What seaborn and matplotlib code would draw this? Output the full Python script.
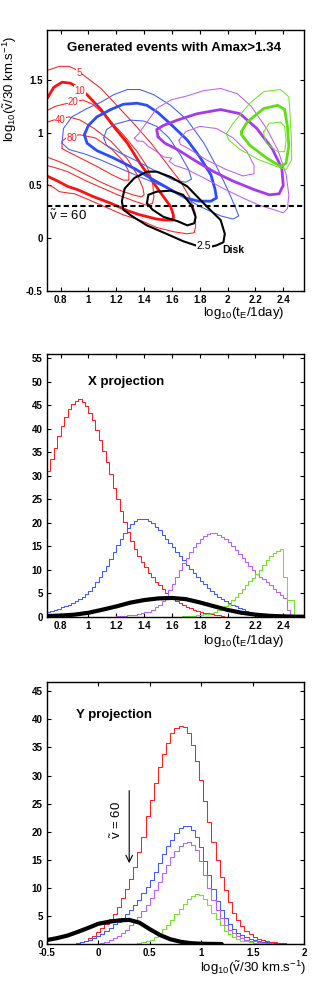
import numpy as np
import matplotlib
matplotlib.use("Agg")
import matplotlib.pyplot as plt
import seaborn as sns

# ---------------- contour lines of the top panel (log10 tE, log10 v/30) ----------------
red5 = [(0.70, 1.59), (0.79, 1.63), (0.86, 1.63), (0.91, 1.60), (0.98, 1.53), (1.09, 1.42), (1.21, 1.25),
        (1.33, 1.08), (1.45, 0.90), (1.56, 0.71), (1.66, 0.54), (1.73, 0.38), (1.77, 0.23), (1.77, 0.11),
        (1.76, 0.05), (1.71, 0.04), (1.61, 0.06), (1.49, 0.10), (1.37, 0.17), (1.25, 0.22), (1.13, 0.29),
        (0.99, 0.37), (0.90, 0.42), (0.84, 0.43), (0.79, 0.44), (0.75, 0.48), (0.70, 0.51)]
red10 = [(0.70, 1.32), (0.75, 1.43), (0.81, 1.48), (0.87, 1.47), (0.91, 1.44), (0.99, 1.36), (1.09, 1.22),
         (1.18, 1.06), (1.28, 0.90), (1.37, 0.71), (1.47, 0.52), (1.54, 0.39), (1.59, 0.30), (1.61, 0.22),
         (1.61, 0.17), (1.56, 0.17), (1.49, 0.18), (1.37, 0.22), (1.28, 0.26), (1.16, 0.33), (1.04, 0.39),
         (0.92, 0.46), (0.85, 0.49), (0.78, 0.54), (0.70, 0.59)]
red20 = [(0.70, 1.21), (0.76, 1.25), (0.82, 1.27), (0.89, 1.29), (0.96, 1.31), (1.03, 1.27), (1.13, 1.15),
         (1.25, 0.98), (1.35, 0.82), (1.42, 0.68), (1.46, 0.54), (1.47, 0.39), (1.46, 0.33), (1.42, 0.31),
         (1.33, 0.35), (1.21, 0.41), (1.09, 0.48), (0.97, 0.55), (0.85, 0.63), (0.78, 0.66), (0.70, 0.69)]
red40 = [(0.70, 1.10), (0.75, 1.12), (0.86, 1.15), (0.94, 1.12), (1.04, 1.04), (1.16, 0.92), (1.28, 0.75),
         (1.35, 0.60), (1.39, 0.48), (1.40, 0.41), (1.38, 0.39), (1.32, 0.41), (1.21, 0.46), (1.09, 0.53),
         (0.97, 0.61), (0.85, 0.69), (0.78, 0.73), (0.70, 0.77)]
red80 = [(0.81, 0.85), (0.81, 0.92), (0.86, 0.97), (0.94, 0.98), (1.05, 0.95), (1.17, 0.84), (1.25, 0.73),
         (1.29, 0.63), (1.29, 0.55), (1.25, 0.55), (1.17, 0.60), (1.06, 0.68), (0.94, 0.76), (0.85, 0.82),
         (0.81, 0.85)]
red_labels = ["5", "10", "20", "40", "80"]
red_label_pos = [(0.93, 1.57), (0.94, 1.40), (0.89, 1.29), (0.80, 1.12), (0.88, 0.95)]

blue_out = [(0.81, 0.90), (0.82, 1.04), (0.88, 1.15), (0.99, 1.23), (1.09, 1.29), (1.18, 1.36), (1.28, 1.41),
            (1.37, 1.41), (1.47, 1.36), (1.59, 1.26), (1.71, 1.12), (1.83, 0.90), (1.92, 0.68), (1.99, 0.49),
            (2.05, 0.31), (2.08, 0.21), (2.04, 0.18), (1.95, 0.21), (1.80, 0.30), (1.66, 0.41), (1.52, 0.50),
            (1.37, 0.58), (1.23, 0.66), (1.09, 0.74), (0.97, 0.80), (0.86, 0.84), (0.81, 0.90)]
blue_mid = [(0.97, 0.98), (1.00, 1.07), (1.06, 1.15), (1.16, 1.22), (1.25, 1.27), (1.35, 1.28), (1.42, 1.26),
            (1.50, 1.19), (1.60, 1.07), (1.71, 0.93), (1.80, 0.77), (1.88, 0.60), (1.91, 0.46), (1.92, 0.38),
            (1.88, 0.35), (1.79, 0.35), (1.70, 0.38), (1.59, 0.46), (1.47, 0.55), (1.33, 0.66), (1.18, 0.76),
            (1.06, 0.83), (0.99, 0.90), (0.97, 0.98)]
blue_in = [(1.11, 0.95), (1.13, 1.03), (1.19, 1.08), (1.30, 1.12), (1.40, 1.11), (1.49, 1.06), (1.58, 0.95),
           (1.66, 0.79), (1.72, 0.65), (1.74, 0.56), (1.70, 0.53), (1.61, 0.55), (1.49, 0.63), (1.35, 0.73),
           (1.21, 0.82), (1.13, 0.88), (1.11, 0.95)]

purple_out = [(1.33, 0.95), (1.36, 0.99), (1.42, 1.10), (1.49, 1.23), (1.59, 1.31), (1.71, 1.35), (1.83, 1.40),
              (1.95, 1.42), (2.07, 1.37), (2.17, 1.25), (2.28, 1.04), (2.36, 0.84), (2.42, 0.61), (2.44, 0.41),
              (2.43, 0.28), (2.40, 0.24), (2.33, 0.27), (2.23, 0.31), (2.11, 0.38), (1.97, 0.47), (1.83, 0.57),
              (1.71, 0.65), (1.62, 0.69), (1.58, 0.73), (1.60, 0.76), (1.54, 0.77), (1.49, 0.82), (1.43, 0.87),
              (1.39, 0.92), (1.35, 0.92), (1.33, 0.95)]
purple_mid = [(1.50, 0.96), (1.49, 1.03), (1.54, 1.07), (1.64, 1.12), (1.78, 1.18), (1.95, 1.22), (2.09, 1.18),
              (2.21, 1.04), (2.32, 0.85), (2.39, 0.66), (2.40, 0.50), (2.37, 0.42), (2.30, 0.41), (2.19, 0.46),
              (2.04, 0.54), (1.90, 0.63), (1.76, 0.74), (1.64, 0.84), (1.55, 0.90), (1.50, 0.96)]
purple_in = [(1.65, 0.93), (1.70, 1.01), (1.80, 1.06), (1.92, 1.04), (2.04, 0.95), (2.14, 0.82), (2.19, 0.69),
             (2.19, 0.61), (2.11, 0.59), (1.99, 0.65), (1.85, 0.74), (1.73, 0.84), (1.66, 0.89), (1.65, 0.93)]

green_out = [(1.99, 0.99), (2.04, 1.09), (2.16, 1.28), (2.26, 1.39), (2.38, 1.41), (2.44, 1.34), (2.45, 1.15),
             (2.46, 0.90), (2.46, 0.74), (2.42, 0.65), (2.35, 0.68), (2.23, 0.74), (2.09, 0.84), (2.01, 0.93),
             (1.99, 0.99)]
green_mid = [(2.10, 1.01), (2.14, 1.10), (2.26, 1.23), (2.36, 1.26), (2.41, 1.22), (2.43, 1.06), (2.44, 0.87),
             (2.42, 0.71), (2.38, 0.68), (2.28, 0.76), (2.16, 0.88), (2.10, 0.98), (2.10, 1.01)]
green_in = [(2.26, 1.01), (2.30, 1.09), (2.38, 1.10), (2.41, 1.06), (2.42, 0.93), (2.41, 0.82), (2.36, 0.82),
            (2.28, 0.90), (2.26, 0.98), (2.26, 1.01)]

black_out = [(1.24, 0.35), (1.26, 0.47), (1.33, 0.57), (1.42, 0.63), (1.49, 0.63), (1.59, 0.58), (1.71, 0.49),
             (1.85, 0.30), (1.95, 0.17), (1.98, 0.04), (1.97, -0.04), (1.92, -0.07), (1.89, -0.08),
             (1.77, -0.07), (1.68, -0.03), (1.56, 0.04), (1.42, 0.12), (1.31, 0.21), (1.25, 0.27), (1.24, 0.35)]
black_in = [(1.42, 0.33), (1.43, 0.41), (1.49, 0.44), (1.59, 0.45), (1.68, 0.41), (1.74, 0.31), (1.77, 0.20),
            (1.76, 0.14), (1.71, 0.12), (1.64, 0.16), (1.54, 0.20), (1.46, 0.27), (1.42, 0.33)]
v60_level = 0.301

# ---------------- X projection histograms (bin 0.025) ----------------
xbin = 0.025
red_x_start = 0.70
red_x = [31.0, 33.5, 36.0, 38.5, 40.5, 42.5, 44.2, 45.3, 46.0, 46.3, 45.8, 44.8, 43.3, 41.8, 39.8,
         37.6, 35.2, 33.0, 30.3, 27.5, 25.0, 22.5, 20.2, 18.0, 16.2, 14.5, 13.0, 11.6, 10.5, 9.4,
         8.4, 7.5, 6.7, 5.9, 5.1, 4.4, 3.8, 3.3, 2.9, 2.5, 2.1, 1.8, 1.5, 1.3, 1.1, 0.9, 0.7, 0.55,
         0.4, 0.3, 0.15, 0.05, 0.0]
blue_x_start = 0.70
blue_x = [1.0, 1.2, 1.4, 1.7, 2.0, 2.3, 2.6, 3.0, 3.4, 3.8, 4.3, 4.9, 5.5, 6.4, 7.4, 8.4, 9.7, 10.9,
          12.3, 13.8, 15.3, 16.6, 17.8, 18.9, 19.7, 20.3, 20.7, 20.9, 20.8, 20.4, 19.9, 19.2, 18.4,
          17.5, 16.6, 15.7, 14.8, 13.8, 12.9, 12.0, 11.1, 10.2, 9.3, 8.5, 7.7, 6.9, 6.1, 5.5, 4.9,
          4.3, 3.8, 3.3, 2.9, 2.5, 2.2, 1.9, 1.6, 1.3, 1.1, 0.9, 0.7, 0.55, 0.4, 0.3, 0.2, 0.1,
          0.05, 0.02, 0.0]
purple_x_start = 1.175
purple_x = [0.05, 0.1, 0.15, 0.2, 0.3, 0.35, 0.45, 0.6, 0.75, 0.95, 1.1, 1.5, 2.0, 2.6, 3.4, 4.3,
            5.6, 7.0, 8.5, 10.0, 11.5, 12.6, 13.8, 14.9, 15.8, 16.6, 17.2, 17.6, 17.8, 17.8, 17.4,
            16.9, 16.5, 15.9, 15.1, 14.3, 13.4, 12.5, 11.7, 10.8, 10.0, 9.1, 8.5, 8.0, 7.4, 6.7,
            5.9, 5.2, 4.6, 3.9, 1.4, 0.0, 0.0]
green_x_start = 1.60
green_x = [0.02, 0.03, 0.05, 0.08, 0.1, 0.15, 0.2, 0.3, 0.4, 0.5, 0.65, 0.85, 1.1, 1.4, 1.75, 2.2,
           2.8, 3.5, 4.2, 5.0, 5.9, 6.8, 7.6, 8.3, 9.1, 10.0, 11.0, 12.0, 12.9, 13.6, 14.1, 14.5,
           8.5, 3.5, 3.5, 0.0]
black_x_pos = [0.7, 0.8, 0.9, 1.0, 1.1, 1.2, 1.3, 1.4, 1.5, 1.6, 1.7, 1.8, 1.9, 2.0, 2.1, 2.2, 2.3,
               2.4, 2.5, 2.6]
black_x = [0.15, 0.25, 0.45, 0.85, 1.5, 2.2, 3.0, 3.55, 3.9, 4.0, 3.75, 3.05, 2.25, 1.45, 0.85, 0.45,
           0.2, 0.08, 0.02, 0.0]

# ---------------- Y projection histograms (bin 0.04) ----------------
ybin = 0.04
red_y_start = -0.22
red_y = [0.05, 0.3, 0.6, 1.0, 1.5, 2.1, 2.9, 3.6, 4.4, 5.4, 6.6, 8.2, 9.8, 11.6, 13.7, 16.3, 19.1,
         22.8, 25.7, 28.7, 31.6, 33.8, 35.8, 37.5, 38.5, 38.9, 38.6, 37.5, 35.4, 32.6, 29.2, 25.5,
         21.8, 18.2, 15.0, 12.0, 9.6, 7.4, 5.6, 4.2, 3.2, 2.3, 1.7, 1.25, 0.9, 0.65, 0.5, 0.35, 0.27,
         0.2, 0.13, 0.08, 0.05, 0.03, 0.02, 0.01]
blue_y_start = -0.22
blue_y = [0.1, 0.35, 0.55, 0.8, 1.05, 1.4, 1.8, 2.3, 2.9, 3.5, 4.0, 4.6, 5.3, 6.0, 7.0, 7.9, 9.0, 10.1,
          11.4, 12.9, 14.4, 16.0, 17.4, 18.6, 19.7, 20.6, 21.0, 21.0, 20.3, 19.0, 17.2, 14.8, 12.2,
          9.8, 7.7, 6.0, 4.6, 3.5, 2.7, 2.0, 1.6, 1.2, 0.95, 0.75, 0.55, 0.42, 0.32, 0.22, 0.15, 0.1,
          0.06, 0.03, 0.0]
purple_y_start = -0.02
purple_y = [0.05, 0.15, 0.35, 0.7, 1.1, 1.5, 2.0, 2.5, 3.3, 4.0, 4.8, 5.8, 7.0, 8.2, 9.6, 11.1, 12.6,
            14.1, 15.5, 16.6, 17.5, 18.0, 18.1, 17.7, 16.7, 14.8, 12.3, 10.0, 7.8, 6.0, 4.6, 3.4, 2.5,
            1.9, 1.4, 1.0, 0.8, 0.6, 0.45, 0.35, 0.25, 0.18, 0.12, 0.08, 0.05, 0.03, 0.0]
green_y_start = 0.30
green_y = [0.03, 0.08, 0.15, 0.3, 0.5, 0.8, 1.2, 1.8, 2.6, 3.4, 4.3, 5.3, 6.3, 7.2, 8.0, 8.6, 8.9, 8.8,
           8.1, 7.0, 5.6, 4.4, 3.3, 2.4, 1.7, 1.2, 0.85, 0.6, 0.45, 0.32, 0.22, 0.15, 0.1, 0.06, 0.03,
           0.0]
black_y_pos = [-0.5, -0.4, -0.3, -0.2, -0.1, 0.0, 0.1, 0.2, 0.3, 0.4, 0.5, 0.6, 0.7, 0.8, 0.9, 1.0,
               1.1, 1.2]
black_y = [0.7, 1.05, 1.5, 2.15, 2.85, 3.6, 3.95, 4.2, 4.3, 3.8, 2.65, 1.6, 0.85, 0.4, 0.15, 0.05,
           0.02, 0.0]

RED, BLUE, PURPLE, GREEN = "#ff2020", "#3d5cff", "#c060f5", "#6ee624"
RED_T, BLUE_T, PURPLE_T, GREEN_T = "#ff1010", "#2a4dff", "#a838f0", "#5ee010"

sns.set_theme(style="ticks")
plt.rcParams.update({
    "font.family": ["Liberation Sans", "DejaVu Sans"],
    "mathtext.fontset": "custom",
    "mathtext.rm": "Liberation Sans",
    "mathtext.it": "Liberation Sans:italic",
    "mathtext.bf": "Liberation Sans:bold",
    "mathtext.default": "regular",
    "axes.unicode_minus": False,
    "axes.linewidth": 1.0,
    "axes.edgecolor": "black",
    "text.color": "black",
    "axes.labelcolor": "black",
    "xtick.color": "black", "ytick.color": "black",
    "xtick.direction": "in", "ytick.direction": "in",
    "xtick.top": True, "ytick.right": True,
    "xtick.major.size": 3, "ytick.major.size": 3,
    "xtick.major.width": 0.8, "ytick.major.width": 0.8,
    "xtick.major.pad": 3, "ytick.major.pad": 3,
})

fig = plt.figure(figsize=(3.27, 9.81), dpi=100)
ax1 = fig.add_axes([0.143, 0.7037, 0.787, 0.2657])
ax2 = fig.add_axes([0.143, 0.3713, 0.787, 0.2675])
ax3 = fig.add_axes([0.143, 0.0377, 0.787, 0.2668])


def contour(ax, pts, color, lw):
    xs = [p[0] for p in pts]
    ys = [p[1] for p in pts]
    sns.lineplot(x=xs, y=ys, sort=False, estimator=None, color=color, linewidth=lw, ax=ax)


def hist(ax, vals, start, width, color):
    n = len(vals)
    centers = start + width * (np.arange(n) + 0.5)
    sns.histplot(x=centers, weights=np.asarray(vals, dtype=float), bins=n,
                 binrange=(start, start + n * width), element="step", fill=False,
                 color=color, linewidth=0.75, ax=ax)


def fmt(v):
    return "%g" % v


def style(ax, xt, yt, xlim, ylim):
    ax.set_xlim(*xlim)
    ax.set_ylim(*ylim)
    ax.set_xticks(xt, labels=[fmt(v) for v in xt], fontweight="bold", fontsize=7)
    ax.set_yticks(yt, labels=[fmt(v) for v in yt], fontweight="bold", fontsize=7)
    ax.set_ylabel("")
    for s in ax.spines.values():
        s.set_visible(True)


# ---- panel 1: contours
for pts, lw in [(red5, 0.75), (red20, 0.75), (red40, 0.75), (red80, 0.75)]:
    contour(ax1, pts, RED, lw)
contour(ax1, red10, RED_T, 2.0)
contour(ax1, blue_out, BLUE, 0.75)
contour(ax1, blue_in, BLUE, 0.75)
contour(ax1, blue_mid, BLUE_T, 2.0)
contour(ax1, purple_out, PURPLE, 0.75)
contour(ax1, purple_in, PURPLE, 0.75)
contour(ax1, purple_mid, PURPLE_T, 2.0)
contour(ax1, green_out, GREEN, 0.75)
contour(ax1, green_in, GREEN, 0.75)
contour(ax1, green_mid, GREEN_T, 2.0)
contour(ax1, black_out, "black", 1.5)
contour(ax1, black_in, "black", 1.5)
for lab, (lx, ly) in zip(red_labels, red_label_pos):
    ax1.text(lx, ly, lab, color=RED, fontsize=7, ha="center", va="center",
             bbox=dict(facecolor="white", edgecolor="none", pad=0.2))
ax1.text(1.83, -0.075, "2.5", fontsize=7.5, ha="center", va="center",
         bbox=dict(facecolor="white", edgecolor="none", pad=0.2))
ax1.axhline(v60_level, color="black", lw=1.5, ls=(0, (2.5, 1.5)))
ax1.text(0.716, 0.21, r"$\tilde{v}$ = 60", fontsize=9.5, ha="left", va="center")
ax1.text(1.965, -0.114, "Disk", fontsize=7.5, fontweight="bold", ha="left", va="center")
ax1.text(1.617, 1.807, "Generated events with Amax>1.34", fontsize=9.5, fontweight="bold",
         ha="center", va="center")
style(ax1, [0.8, 1.0, 1.2, 1.4, 1.6, 1.8, 2.0, 2.2, 2.4], [-0.5, 0, 0.5, 1, 1.5], (0.7, 2.55), (-0.5, 1.975))
ax1.set_ylabel(r"log$_{10}$($\tilde{v}$/30 km.s$^{-1}$)", fontsize=9.5)
ax1.yaxis.set_label_coords(-0.108, 0.776)
ax1.set_xlabel(r"log$_{10}$(t$_E$/1day)", fontsize=9.5)
ax1.xaxis.set_label_coords(0.763, -0.055)

# ---- panel 2: X projection
hist(ax2, red_x, red_x_start, xbin, RED)
hist(ax2, blue_x, blue_x_start, xbin, BLUE)
hist(ax2, purple_x, purple_x_start, xbin, PURPLE)
hist(ax2, green_x, green_x_start, xbin, GREEN)
sns.lineplot(x=black_x_pos, y=black_x, color="black", linewidth=3.0, ax=ax2)
ax2.text(0.993, 49.9, "X projection", fontsize=9.5, fontweight="bold", ha="left", va="center")
style(ax2, [0.8, 1.0, 1.2, 1.4, 1.6, 1.8, 2.0, 2.2, 2.4], list(range(0, 56, 5)), (0.7, 2.55), (0, 55.85))
ax2.set_xlabel(r"log$_{10}$(t$_E$/1day)", fontsize=9.5)
ax2.xaxis.set_label_coords(0.763, -0.063)

# ---- panel 3: Y projection
hist(ax3, red_y, red_y_start, ybin, RED)
hist(ax3, blue_y, blue_y_start, ybin, BLUE)
hist(ax3, purple_y, purple_y_start, ybin, PURPLE)
hist(ax3, green_y, green_y_start, ybin, GREEN)
sns.lineplot(x=black_y_pos, y=black_y, color="black", linewidth=3.0, ax=ax3)
ax3.text(-0.215, 40.8, "Y projection", fontsize=9.5, fontweight="bold", ha="left", va="center")
ax3.annotate("", xy=(v60_level, 13.9), xytext=(v60_level, 27.8),
             arrowprops=dict(arrowstyle="->", color="black", lw=0.8))
ax3.text(0.18, 22.1, r"$\tilde{v}$ = 60", fontsize=9.5, rotation=90, ha="center", va="center")
style(ax3, [-0.5, 0, 0.5, 1, 1.5, 2], list(range(0, 46, 5)), (-0.5, 2.0), (0, 46.6))
ax3.set_xlabel(r"log$_{10}$($\tilde{v}$/30 km.s$^{-1}$)", fontsize=9.5)
ax3.xaxis.set_label_coords(0.803, -0.055)

fig.savefig("out.png", dpi=100)
